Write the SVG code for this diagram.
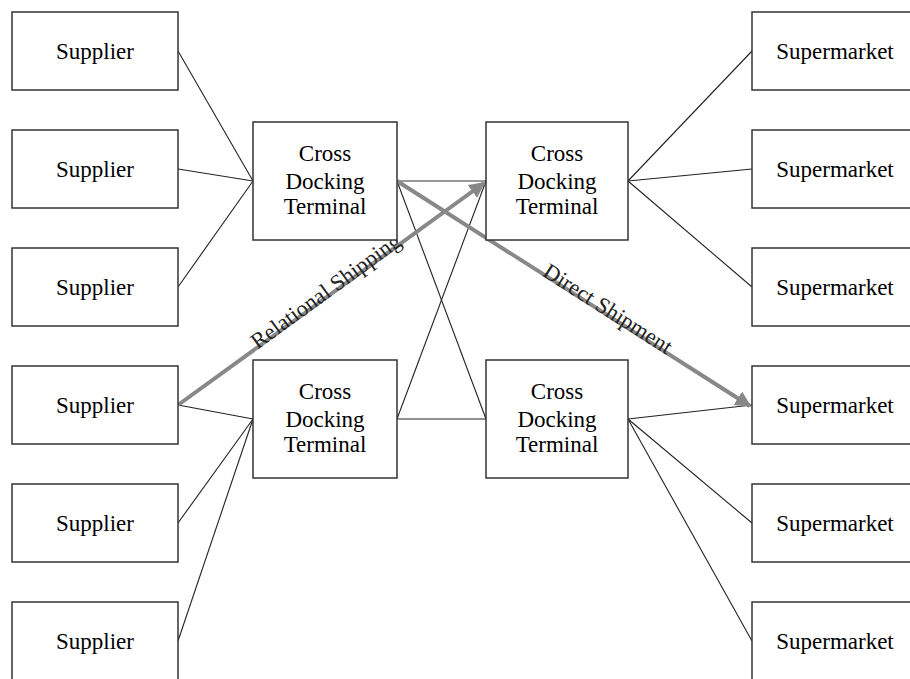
<svg xmlns="http://www.w3.org/2000/svg" width="910" height="679" viewBox="0 0 910 679">
<defs>
<style>
.box{fill:#fff;stroke:#333;stroke-width:1.5}
.t{font-family:"Liberation Serif","Times New Roman",serif;font-size:23px;fill:#000;text-anchor:middle}
.ln{stroke:#222;stroke-width:1.1;fill:none}
.gl{stroke:#999;stroke-width:2;fill:none}
.big{stroke:#888;stroke-width:4;fill:none}
.lbl{font-family:"Liberation Serif","Times New Roman",serif;font-size:22.5px;fill:#222;text-anchor:middle}
</style>
<marker id="ah" viewBox="0 0 10 10" refX="9" refY="5" markerWidth="4" markerHeight="4" orient="auto" markerUnits="strokeWidth">
<path d="M0,0 L10,5 L0,10 z" fill="#888"/>
</marker>
</defs>
<rect width="910" height="679" fill="#fff"/>
<g id="connectors">
<line class="ln" x1="178" y1="51" x2="253" y2="181"/>
<line class="ln" x1="178" y1="169" x2="253" y2="181"/>
<line class="ln" x1="178" y1="287" x2="253" y2="181"/>
<line class="ln" x1="178" y1="405" x2="253" y2="419"/>
<line class="ln" x1="178" y1="523" x2="253" y2="419"/>
<line class="ln" x1="178" y1="641" x2="253" y2="419"/>
<line class="ln" x1="628" y1="181" x2="752" y2="51"/>
<line class="ln" x1="628" y1="181" x2="752" y2="169"/>
<line class="ln" x1="628" y1="181" x2="752" y2="287"/>
<line class="ln" x1="628" y1="419" x2="752" y2="405"/>
<line class="ln" x1="628" y1="419" x2="752" y2="523"/>
<line class="ln" x1="628" y1="419" x2="752" y2="641"/>
<line class="gl" x1="397" y1="181" x2="486" y2="181"/>
<line class="ln" x1="397" y1="181" x2="486" y2="419"/>
<line class="ln" x1="397" y1="419" x2="486" y2="181"/>
<line class="ln" x1="397" y1="419" x2="486" y2="419"/>
<line class="big" x1="178" y1="405" x2="484" y2="183" marker-end="url(#ah)"/>
<line class="big" x1="397" y1="181" x2="750" y2="406" marker-end="url(#ah)"/>
<text class="lbl" transform="translate(330,297) rotate(-36)">Relational Shipping</text>
<text class="lbl" transform="translate(604,315) rotate(32.5)">Direct Shipment</text>
</g>
<g id="supplier1"><rect class="box" x="12" y="12" width="166" height="78"/><text class="t" x="95" y="59">Supplier</text></g>
<g id="supplier2"><rect class="box" x="12" y="130" width="166" height="78"/><text class="t" x="95" y="177">Supplier</text></g>
<g id="supplier3"><rect class="box" x="12" y="248" width="166" height="78"/><text class="t" x="95" y="295">Supplier</text></g>
<g id="supplier4"><rect class="box" x="12" y="366" width="166" height="78"/><text class="t" x="95" y="413">Supplier</text></g>
<g id="supplier5"><rect class="box" x="12" y="484" width="166" height="78"/><text class="t" x="95" y="531">Supplier</text></g>
<g id="supplier6"><rect class="box" x="12" y="602" width="166" height="78"/><text class="t" x="95" y="649">Supplier</text></g>
<g id="supermarket1"><rect class="box" x="752" y="12" width="166" height="78"/><text class="t" x="835" y="59">Supermarket</text></g>
<g id="supermarket2"><rect class="box" x="752" y="130" width="166" height="78"/><text class="t" x="835" y="177">Supermarket</text></g>
<g id="supermarket3"><rect class="box" x="752" y="248" width="166" height="78"/><text class="t" x="835" y="295">Supermarket</text></g>
<g id="supermarket4"><rect class="box" x="752" y="366" width="166" height="78"/><text class="t" x="835" y="413">Supermarket</text></g>
<g id="supermarket5"><rect class="box" x="752" y="484" width="166" height="78"/><text class="t" x="835" y="531">Supermarket</text></g>
<g id="supermarket6"><rect class="box" x="752" y="602" width="166" height="78"/><text class="t" x="835" y="649">Supermarket</text></g>
<g id="cdt1"><rect class="box" x="253" y="122" width="144" height="118"/><text class="t" x="325" y="161">Cross</text><text class="t" x="325" y="189">Docking</text><text class="t" x="325" y="214">Terminal</text></g>
<g id="cdt2"><rect class="box" x="486" y="122" width="142" height="118"/><text class="t" x="557" y="161">Cross</text><text class="t" x="557" y="189">Docking</text><text class="t" x="557" y="214">Terminal</text></g>
<g id="cdt3"><rect class="box" x="253" y="360" width="144" height="118"/><text class="t" x="325" y="399">Cross</text><text class="t" x="325" y="427">Docking</text><text class="t" x="325" y="452">Terminal</text></g>
<g id="cdt4"><rect class="box" x="486" y="360" width="142" height="118"/><text class="t" x="557" y="399">Cross</text><text class="t" x="557" y="427">Docking</text><text class="t" x="557" y="452">Terminal</text></g>
</svg>
